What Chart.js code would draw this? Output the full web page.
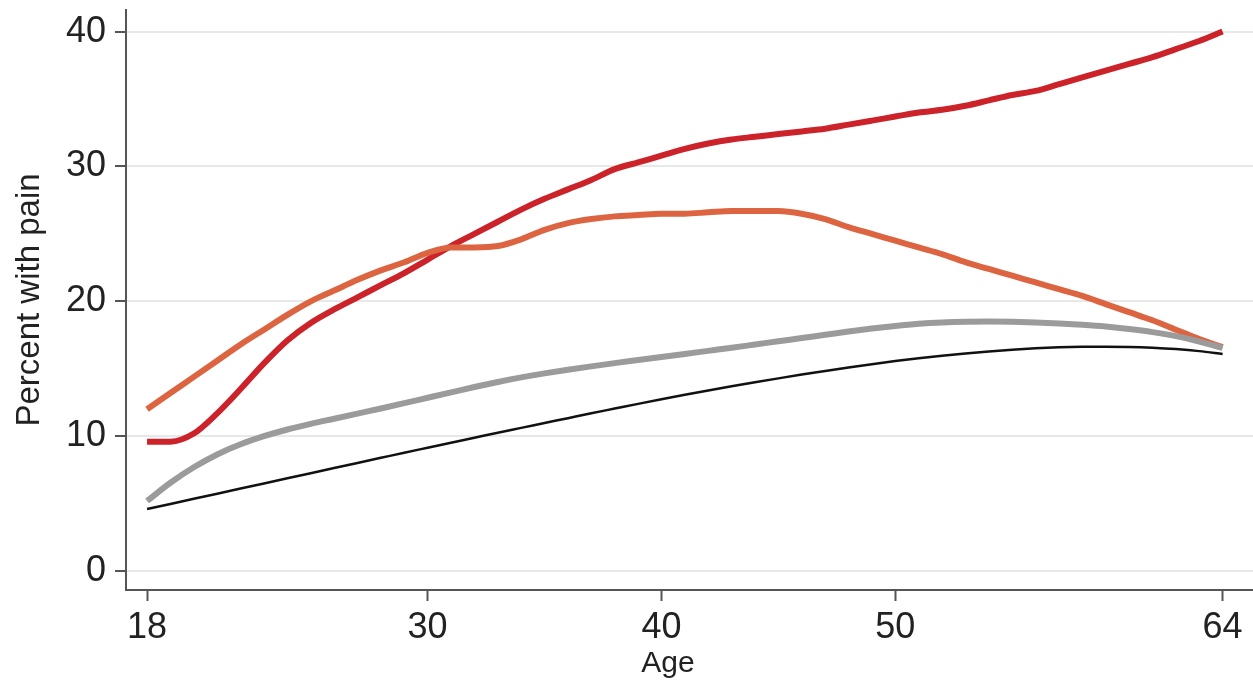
<!DOCTYPE html>
<html>
<head>
<meta charset="utf-8">
<script src="https://cdn.jsdelivr.net/npm/chart.js@4.4.1/dist/chart.umd.min.js"></script>
<style>
  html, body { margin: 0; padding: 0; background: #fff; }
  #wrap { width: 1253px; height: 687px; }
</style>
</head>
<body>
<div id="wrap"><canvas id="chart1" width="1253" height="687"></canvas></div>
<script>
let ages = [18,19,20,21,22,23,24,25,26,27,28,29,30,31,32,33,34,35,36,37,38,39,40,41,
  42,43,44,45,46,47,48,49,50,51,52,53,54,55,56,57,58,59,60,61,62,63,64];

let redVals = [9.6,9.6,10.2,11.7,13.5,15.4,17.1,18.4,19.4,20.3,21.2,22.1,23.1,24.1,25.0,25.9,
  26.8,27.6,28.3,29.0,29.8,30.3,30.8,31.3,31.7,32.0,32.2,32.4,32.6,32.8,33.1,33.4,33.7,34.0,
  34.2,34.5,34.9,35.3,35.6,36.1,36.6,37.1,37.6,38.1,38.7,39.3,40.0];
let orangeVals = [12.0,13.2,14.4,15.6,16.8,17.9,19.0,20.0,20.8,21.6,22.3,22.9,23.6,24.0,24.0,
  24.1,24.6,25.3,25.8,26.1,26.3,26.4,26.5,26.5,26.6,26.7,26.7,26.7,26.5,26.1,25.5,25.0,24.5,
  24.0,23.5,22.9,22.4,21.9,21.4,20.9,20.4,19.8,19.2,18.6,17.9,17.2,16.6];
let grayVals = [5.20,6.55,7.70,8.65,9.40,10.00,10.50,10.92,11.30,11.68,12.06,12.45,12.85,13.25,
  13.65,14.02,14.36,14.66,14.93,15.18,15.42,15.65,15.88,16.10,16.33,16.56,16.80,17.04,17.28,
  17.52,17.76,17.98,18.18,18.34,18.44,18.49,18.50,18.48,18.43,18.36,18.26,18.13,17.95,17.72,
  17.42,17.02,16.55];
let blackVals = [4.60,4.98,5.36,5.74,6.12,6.50,6.88,7.26,7.64,8.02,8.40,8.78,9.15,9.52,9.89,
  10.26,10.62,10.98,11.34,11.70,12.05,12.40,12.74,13.07,13.39,13.70,14.00,14.29,14.57,14.84,
  15.10,15.34,15.57,15.78,15.97,16.14,16.29,16.42,16.52,16.59,16.63,16.64,16.62,16.56,16.46,
  16.31,16.10];

let xTicks = [18,30,40,50,64];
let yTicks = [0,10,20,30,40];

const pts = vals => vals.map((v,i) => ({x: ages[i], y: v}));

let fontFam = '"Liberation Sans", Arial, sans-serif';
let ctx1 = document.getElementById('chart1').getContext('2d');

// x title drawn by hand, it sits a bit left of the plot centre in the original
const ageTitle = {
  id: 'ageTitle',
  afterDraw(chart) {
    const c = chart.ctx;
    c.save();
    c.fillStyle = '#222';
    c.font = '30px ' + fontFam;
    c.textAlign = 'center';
    c.textBaseline = 'middle';
    c.fillText('Age', 668, 664);
    c.restore();
  }
};

let myChart = new Chart(ctx1, {
  type: 'line',
  data: {
    datasets: [
      { data: pts(blackVals), borderColor: '#111111', borderWidth: 2.5 },
      { data: pts(grayVals), borderColor: '#9b9b9b', borderWidth: 6 },
      { data: pts(orangeVals), borderColor: '#dd6440', borderWidth: 6 },
      { data: pts(redVals), borderColor: '#cc2229', borderWidth: 6 }
    ]
  },
  plugins: [ageTitle],
  options: {
    responsive: false,
    animation: false,
    layout: { padding: { top: 10, right: 0, left: 0, bottom: 0 } },
    elements: {
      point: { radius: 0 },
      line: { tension: 0.4, cubicInterpolationMode: 'monotone', borderCapStyle: 'butt', fill: false }
    },
    plugins: { legend: { display: false }, tooltip: { enabled: false } },
    scales: {
      x: {
        type: 'linear',
        min: 17.1,
        max: 65.3,
        afterBuildTicks: s => { s.ticks = xTicks.map(v => ({value: v})); },
        afterFit: s => { s.height = 97; s.paddingLeft = 0; s.paddingRight = 0; },
        grid: { drawOnChartArea: false, drawTicks: true, tickLength: 11, tickColor: '#555', tickWidth: 2 },
        border: { color: '#555', width: 2 },
        ticks: { color: '#222', font: { family: fontFam, size: 36 }, padding: 5, maxRotation: 0 }
      },
      y: {
        min: -1.4,
        max: 41.6,
        afterBuildTicks: s => { s.ticks = yTicks.map(v => ({value: v})); },
        afterFit: s => { s.width = 126; s.paddingTop = 0; s.paddingBottom = 0; },
        grid: { color: '#e8e8e8', lineWidth: 2, drawTicks: true, tickLength: 11, tickColor: '#555', tickWidth: 2 },
        border: { color: '#555', width: 2 },
        ticks: { color: '#222', font: { family: fontFam, size: 36 }, padding: 9 },
        title: { display: true, text: 'Percent with pain', color: '#222', font: { family: fontFam, size: 33 }, padding: { top: 10, bottom: 0 } }
      }
    }
  }
});
</script>
</body>
</html>
